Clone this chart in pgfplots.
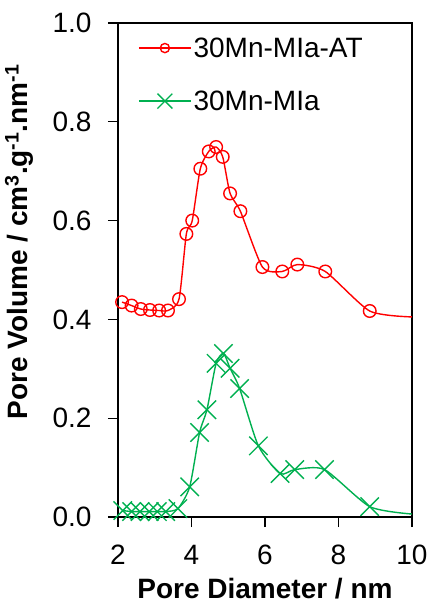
\documentclass[border=0pt]{standalone}
\usepackage{pgfplots}
\pgfplotsset{compat=1.18}
\usepackage{fontspec}
\setmainfont{Liberation Sans}
\definecolor{myred}{RGB}{255,0,0}
\definecolor{mygreen}{RGB}{0,176,80}
\begin{document}
\begin{tikzpicture}
\useasboundingbox (-118pt,-87pt) rectangle (313pt,517pt);
\begin{axis}[
 at={(0pt,0pt)}, anchor=south west,
 scale only axis, width=294pt, height=494pt,
 xmin=2, xmax=10, ymin=0, ymax=1,
 xtick={2,4,6,8,10}, ytick={0,0.2,0.4,0.6,0.8,1},
 /pgf/number format/assume math mode=true,
 tick label style={font=\fontsize{28}{28}\selectfont},
 xticklabel style={anchor=center, yshift=-28pt},
 yticklabel style={anchor=east, xshift=-13pt, /pgf/number format/.cd, fixed, fixed zerofill, precision=1},
 xlabel={Pore Diameter / nm},
 ylabel={Pore Volume / cm\textsuperscript{3}.g\textsuperscript{-1}.nm\textsuperscript{-1}},
 xlabel style={font=\bfseries\fontsize{28}{28}\selectfont, at={(axis description cs:0.5,-0.146)}, anchor=center},
 ylabel style={font=\bfseries\fontsize{28}{28}\selectfont, at={(axis description cs:-0.336,0.557)}, anchor=center},
 tick align=outside, xtick pos=bottom, ytick pos=left, major tick length=10pt,
 axis line style={line width=1.6pt}, tick style={line width=1.2pt, black},
 legend style={draw=none, fill=none, inner sep=0pt, at={(0.068,0.975)}, anchor=north west, font=\fontsize{28}{28}\selectfont, row sep=28pt},
 legend cell align=left,
]
\addplot[myred, line width=1.4pt, smooth, tension=0.4, mark=o, mark size=6.3pt,
  mark options={fill=white, line width=1.4pt},
  mark indices={1,2,3,4,5,6,7,8,9,10,11,12,13,14,15,16,17,18,19,20},
  legend image code/.code={\draw (0pt,0pt) -- (52pt,0pt); \draw[mark size=4.6pt, mark indices={1}] plot coordinates {(26pt,0pt)};}]
coordinates {
(2.11,0.435) (2.37,0.428) (2.62,0.421) (2.87,0.419) (3.12,0.418) (3.36,0.418)
(3.66,0.441) (3.86,0.573) (4.02,0.600) (4.24,0.705) (4.47,0.740) (4.67,0.749)
(4.85,0.729) (5.05,0.655) (5.33,0.619) (5.93,0.506) (6.47,0.497) (6.88,0.511)
(7.64,0.497) (8.85,0.417) (10.0,0.405)};
\addlegendentry{30Mn-MIa-AT}
\addplot[mygreen, line width=1.4pt, smooth, tension=0.4, mark=x, mark size=13pt,
  mark options={line width=1.4pt},
  mark indices={1,2,3,4,5,6,7,8,9,10,11,12,13,14,15,16,17,18,19},
  legend image code/.code={\draw (0pt,0pt) -- (52pt,0pt); \draw[mark size=10.5pt, mark indices={1}] plot coordinates {(26pt,0pt)};}]
coordinates {
(2.13,0.013) (2.37,0.011) (2.60,0.011) (2.85,0.011) (3.07,0.011) (3.30,0.011)
(3.63,0.017) (3.95,0.061) (4.22,0.171) (4.42,0.217) (4.67,0.311) (4.87,0.331)
(5.05,0.301) (5.31,0.260) (5.82,0.144) (6.41,0.088) (6.81,0.096) (7.62,0.096)
(8.85,0.021) (10.0,0.006)};
\addlegendentry{30Mn-MIa}
\end{axis}
\end{tikzpicture}
\end{document}
